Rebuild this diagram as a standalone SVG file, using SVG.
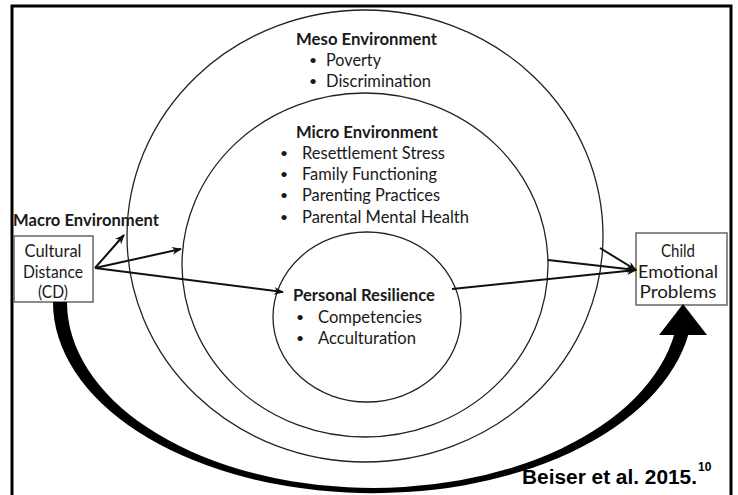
<svg xmlns="http://www.w3.org/2000/svg" width="738" height="495" viewBox="0 0 738 495">
<style>
.ring{fill:none;stroke:#222;stroke-width:1.3}
.box{fill:#fff;stroke:#666;stroke-width:1.5}
.t{font-family:Lato,"Open Sans","Noto Sans",sans-serif;font-size:17.5px;fill:#1a1a1a}
.d{font-family:Lato,"Open Sans","Noto Sans",sans-serif;font-size:14px;fill:#1a1a1a}
.b{font-weight:bold}
.conn{stroke:#111;stroke-width:2;fill:none;marker-end:url(#ah)}
.cite{font-family:"Liberation Sans",Arial,sans-serif;font-weight:bold;fill:#000}
</style>
<defs>
<marker id="ah" markerWidth="10" markerHeight="10" refX="9" refY="5" orient="auto" markerUnits="userSpaceOnUse">
<path d="M0,1 L10,5 L0,9 L3,5 Z" fill="#111"/>
</marker>
</defs>
<rect x="0" y="0" width="738" height="495" fill="#fff"/>
<path d="M12,497 V6 H731 V497" fill="none" stroke="#000" stroke-width="3"/>

<g id="meso">
<ellipse class="ring" cx="365" cy="236" rx="238" ry="226"/>
<text class="t b" x="296" y="45" textLength="141" lengthAdjust="spacingAndGlyphs">Meso Environment</text>
<text class="d" x="309" y="65">•</text><text class="t" x="326" y="66" textLength="55" lengthAdjust="spacingAndGlyphs">Poverty</text>
<text class="d" x="309" y="86">•</text><text class="t" x="326" y="87" textLength="105" lengthAdjust="spacingAndGlyphs">Discrimination</text>
</g>

<g id="micro">
<ellipse class="ring" cx="365" cy="265" rx="183" ry="172"/>
<text class="t b" x="296" y="138" textLength="142" lengthAdjust="spacingAndGlyphs">Micro Environment</text>
<text class="d" x="280" y="158">•</text><text class="t" x="302" y="159" textLength="143" lengthAdjust="spacingAndGlyphs">Resettlement Stress</text>
<text class="d" x="280" y="179">•</text><text class="t" x="302" y="180" textLength="135" lengthAdjust="spacingAndGlyphs">Family Functioning</text>
<text class="d" x="280" y="200">•</text><text class="t" x="302" y="201" textLength="138" lengthAdjust="spacingAndGlyphs">Parenting Practices</text>
<text class="d" x="280" y="222">•</text><text class="t" x="302" y="223" textLength="167" lengthAdjust="spacingAndGlyphs">Parental Mental Health</text>
</g>

<g id="personal">
<ellipse class="ring" cx="367" cy="317" rx="94" ry="85"/>
<text class="t b" x="293" y="301" textLength="142" lengthAdjust="spacingAndGlyphs">Personal Resilience</text>
<text class="d" x="296" y="322">•</text><text class="t" x="318" y="323" textLength="104" lengthAdjust="spacingAndGlyphs">Competencies</text>
<text class="d" x="296" y="343">•</text><text class="t" x="318" y="344" textLength="98" lengthAdjust="spacingAndGlyphs">Acculturation</text>
</g>

<g id="macro">
<text class="t b" x="13" y="226" textLength="146" lengthAdjust="spacingAndGlyphs">Macro Environment</text>
</g>

<g id="cd">
<rect class="box" x="14" y="236" width="79" height="66"/>
<text class="t" x="53" y="257" text-anchor="middle" textLength="57" lengthAdjust="spacingAndGlyphs">Cultural</text>
<text class="t" x="53" y="278" text-anchor="middle" textLength="60" lengthAdjust="spacingAndGlyphs">Distance</text>
<text class="t" x="53" y="298" text-anchor="middle" textLength="30" lengthAdjust="spacingAndGlyphs">(CD)</text>
</g>

<g id="child">
<rect class="box" x="636" y="233" width="91" height="72"/>
<text class="t" x="678" y="257" text-anchor="middle" textLength="34" lengthAdjust="spacingAndGlyphs">Child</text>
<text class="t" x="678" y="278" text-anchor="middle" textLength="80" lengthAdjust="spacingAndGlyphs">Emotional</text>
<text class="t" x="678" y="298" text-anchor="middle" textLength="77" lengthAdjust="spacingAndGlyphs">Problems</text>
</g>

<g id="connectors">
<line class="conn" x1="95" y1="268" x2="124" y2="235"/>
<line class="conn" x1="95" y1="268" x2="181" y2="249"/>
<line class="conn" x1="95" y1="268" x2="283" y2="292"/>
<line class="conn" x1="600" y1="248" x2="636" y2="270"/>
<line class="conn" x1="548" y1="260" x2="636" y2="270"/>
<line class="conn" x1="452" y1="289" x2="636" y2="270"/>
<path d="M53,302 A320,191 0 0 0 688.8,333 L674.7,333 A306,186 0 0 1 67,302 Z" fill="#000"/>
<polygon points="659,335 707,335 683,304" fill="#000"/>
</g>

<g id="citation">
<text class="cite" x="522" y="484" font-size="20" textLength="175" lengthAdjust="spacingAndGlyphs">Beiser et al. 2015.</text>
<text class="cite" x="698" y="471" font-size="12">10</text>
</g>
</svg>
